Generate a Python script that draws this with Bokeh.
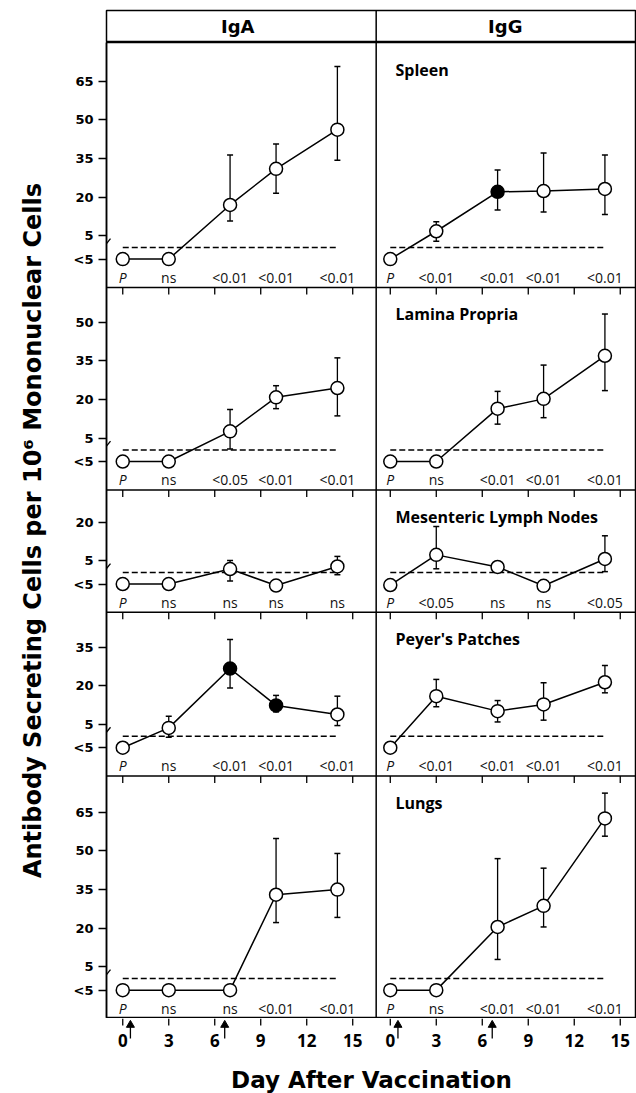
import math
from bokeh.plotting import figure
from bokeh.layouts import column
from bokeh.models import Range1d, FixedTicker, CustomJSTickFormatter, Span
from bokeh.core.properties import value
from bokeh.embed import file_html
from bokeh.resources import INLINE

NAN = float("nan")

# ---------------- data ----------------
days = [0, 3, 7, 10, 14]
BELOW = -4.0          # plotted position of the "<5" category
LOD = 0.5             # dashed detection-limit line
columns_ = ["IgA", "IgG"]
tissues = ["Spleen", "Lamina Propria", "Mesenteric Lymph Nodes", "Peyer's Patches", "Lungs"]
x_ticks = [0, 3, 6, 9, 12, 15]
x_title = "Day After Vaccination"
y_title = "Antibody Secreting Cells per 10\u2076 Mononuclear Cells"
vaccination_marks = [0.5, 6.65]

# Spleen
spleen_iga = [BELOW, BELOW, 17.0, 31.0, 46.2]
spleen_iga_lo = [NAN, NAN, 10.8, 21.5, 34.3]
spleen_iga_hi = [NAN, NAN, 36.4, 40.6, 70.7]
spleen_iga_p = ["P", "ns", "<0.01", "<0.01", "<0.01"]
spleen_iga_fill = [0, 0, 0, 0, 0]
spleen_igg = [BELOW, 6.8, 22.1, 22.4, 23.2]
spleen_igg_lo = [NAN, 2.9, 15.0, 14.3, 13.3]
spleen_igg_hi = [NAN, 10.5, 30.6, 37.1, 36.4]
spleen_igg_p = ["P", "<0.01", "<0.01", "<0.01", "<0.01"]
spleen_igg_fill = [0, 0, 1, 0, 0]
spleen_yticks = [BELOW, 5, 20, 35, 50, 65]

# Lamina propria
lp_iga = [BELOW, BELOW, 7.7, 20.9, 24.5]
lp_iga_lo = [NAN, NAN, 0.9, 16.5, 13.7]
lp_iga_hi = [NAN, NAN, 16.2, 25.4, 36.2]
lp_iga_p = ["P", "ns", "<0.05", "<0.01", "<0.01"]
lp_iga_fill = [0, 0, 0, 0, 0]
lp_igg = [BELOW, BELOW, 16.5, 20.3, 37.0]
lp_igg_lo = [NAN, NAN, 10.5, 13.0, 23.5]
lp_igg_hi = [NAN, NAN, 23.2, 33.4, 53.2]
lp_igg_p = ["P", "ns", "<0.01", "<0.01", "<0.01"]
lp_igg_fill = [0, 0, 0, 0, 0]
lp_yticks = [BELOW, 5, 20, 35, 50]

# Mesenteric lymph nodes
mln_iga = [BELOW, BELOW, 1.8, -4.6, 2.8]
mln_iga_lo = [NAN, NAN, -2.8, NAN, -0.4]
mln_iga_hi = [NAN, NAN, 5.1, NAN, 6.7]
mln_iga_p = ["P", "ns", "ns", "ns", "ns"]
mln_iga_fill = [0, 0, 0, 0, 0]
mln_igg = [-4.4, 7.3, 2.6, -4.7, 5.7]
mln_igg_lo = [NAN, 1.9, 1.5, NAN, 0.8]
mln_igg_hi = [NAN, 18.3, 3.4, NAN, 14.7]
mln_igg_p = ["P", "<0.05", "ns", "ns", "<0.05"]
mln_igg_fill = [0, 0, 0, 0, 0]
mln_yticks = [BELOW, 5, 20]

# Peyer's patches
pp_iga = [BELOW, 3.7, 26.7, 12.4, 8.9]
pp_iga_lo = [NAN, 0.1, 19.2, 9.9, 4.6]
pp_iga_hi = [NAN, 8.2, 38.0, 16.3, 16.0]
pp_iga_p = ["P", "ns", "<0.01", "<0.01", "<0.01"]
pp_iga_fill = [0, 0, 1, 1, 0]
pp_igg = [BELOW, 16.0, 10.2, 12.8, 21.4]
pp_igg_lo = [NAN, 11.9, 6.0, 6.7, 17.3]
pp_igg_hi = [NAN, 22.5, 14.3, 21.2, 27.9]
pp_igg_p = ["P", "<0.01", "<0.01", "<0.01", "<0.01"]
pp_igg_fill = [0, 0, 0, 0, 0]
pp_yticks = [BELOW, 5, 20, 35]

# Lungs
lungs_iga = [BELOW, BELOW, BELOW, 33.0, 35.0]
lungs_iga_lo = [NAN, NAN, NAN, 22.2, 24.2]
lungs_iga_hi = [NAN, NAN, NAN, 54.8, 49.0]
lungs_iga_p = ["P", "ns", "ns", "<0.01", "<0.01"]
lungs_iga_fill = [0, 0, 0, 0, 0]
lungs_igg = [BELOW, BELOW, 20.5, 28.7, 62.6]
lungs_igg_lo = [NAN, NAN, 7.9, 20.5, 55.7]
lungs_igg_hi = [NAN, NAN, 47.0, 43.3, 72.4]
lungs_igg_p = ["P", "ns", "<0.01", "<0.01", "<0.01"]
lungs_igg_fill = [0, 0, 0, 0, 0]
lungs_yticks = [BELOW, 5, 20, 35, 50, 65]

# ---------------- layout (not data) ----------------
panel_top = [80.0, 63.5, 32.5, 48.5, 79.0]   # value shown at top edge of each panel
panel_bottom = -15.0
col_off = [0.0, 17.45]                        # x offset of each column in the shared x scale
X0, X1 = -1.06, 33.51
DIVIDER = 16.53
FRAME_W, FRAME_H = 530, 976
HEADER_H = 42
STRIP_H = 23
STRIP_BOTTOM = 18
TITLE_H = 1093 - HEADER_H - FRAME_H - STRIP_H - STRIP_BOTTOM
TITLE_CENTER = 1079    # page y of the x-title centre

heights = [t - panel_bottom for t in panel_top]
base = [0.0] * 5
acc = 0.0
for i in range(4, -1, -1):
    base[i] = acc
    acc += heights[i]
Y1 = acc
UX = FRAME_W / (X1 - X0)
UY = FRAME_H / Y1

def gy(i, v):
    return base[i] + (v - panel_bottom)

def gx(c, d):
    return d + col_off[c]

panels = [
    [(spleen_iga, spleen_iga_lo, spleen_iga_hi, spleen_iga_p, spleen_iga_fill),
     (spleen_igg, spleen_igg_lo, spleen_igg_hi, spleen_igg_p, spleen_igg_fill)],
    [(lp_iga, lp_iga_lo, lp_iga_hi, lp_iga_p, lp_iga_fill),
     (lp_igg, lp_igg_lo, lp_igg_hi, lp_igg_p, lp_igg_fill)],
    [(mln_iga, mln_iga_lo, mln_iga_hi, mln_iga_p, mln_iga_fill),
     (mln_igg, mln_igg_lo, mln_igg_hi, mln_igg_p, mln_igg_fill)],
    [(pp_iga, pp_iga_lo, pp_iga_hi, pp_iga_p, pp_iga_fill),
     (pp_igg, pp_igg_lo, pp_igg_hi, pp_igg_p, pp_igg_fill)],
    [(lungs_iga, lungs_iga_lo, lungs_iga_hi, lungs_iga_p, lungs_iga_fill),
     (lungs_igg, lungs_igg_lo, lungs_igg_hi, lungs_igg_p, lungs_igg_fill)],
]
yticks = [spleen_yticks, lp_yticks, mln_yticks, pp_yticks, lungs_yticks]
xlocs = [gx(c, d) for c in range(2) for d in x_ticks]

# ---------------- main figure (all ten panels) ----------------
p = figure(width=636, height=FRAME_H, x_range=Range1d(X0, X1), y_range=Range1d(0, Y1),
           min_border_left=106, min_border_right=0, min_border_top=0, min_border_bottom=0,
           x_axis_location=None, output_backend="svg", toolbar_location=None)
p.grid.visible = False
p.outline_line_color = "black"
p.outline_line_width = 1.5
p.background_fill_color = "white"
p.border_fill_color = "white"

ylocs, ylabs = [], []
for i, tks in enumerate(yticks):
    for tk in tks:
        ylocs.append(gy(i, tk))
        ylabs.append("<5" if tk == BELOW else str(int(tk)))
p.yaxis.ticker = FixedTicker(ticks=ylocs)
p.yaxis.formatter = CustomJSTickFormatter(args=dict(locs=ylocs, labs=ylabs), code="""
let best = 0, bd = 1e9;
for (let i = 0; i < locs.length; i++) {
  const d = Math.abs(locs[i] - tick);
  if (d < bd) { bd = d; best = i; }
}
return labs[best];
""")
yax = p.yaxis[0]
yax.major_tick_out = 8
yax.major_tick_in = 0
yax.minor_tick_out = 0
yax.minor_tick_in = 0
yax.axis_line_width = 1.5
yax.major_tick_line_width = 1.3
yax.major_label_text_font = "DejaVu Sans"
yax.major_label_text_font_style = "bold"
yax.major_label_text_font_size = "13px"
yax.major_label_text_color = "black"
yax.major_label_standoff = 5
yax.axis_label = y_title
yax.axis_label_text_font = "DejaVu Sans"
yax.axis_label_text_font_style = "bold"
yax.axis_label_text_font_size = "24px"
yax.axis_label_text_color = "black"
yax.axis_label_standoff = 24

# panel separators and column divider
for i in range(4):
    p.add_layout(Span(location=base[i], dimension="width", line_color="black", line_width=1.5))
p.add_layout(Span(location=DIVIDER, dimension="height", line_color="black", line_width=1.5))

# small tick marks hanging below each separator
sx, sy0, sy1 = [], [], []
for i in range(4):
    for xl in xlocs:
        sx.append(xl)
        sy0.append(base[i])
        sy1.append(base[i] - 7 / UY)
p.segment(x0=sx, y0=sy0, x1=sx, y1=sy1, line_color="black", line_width=1.3)

# axis-break slash on the left axis of each panel
bx0, bx1, by0, by1 = [], [], [], []
for i in range(5):
    yc = gy(i, 2.0)
    bx0.append(X0 - 4 / UX); bx1.append(X0 + 4 / UX)
    by0.append(yc - 5 / UY); by1.append(yc + 5 / UY)
p.segment(x0=bx0, y0=by0, x1=bx1, y1=by1, line_color="black", line_width=1.3)

for i in range(5):
    for c in range(2):
        vals, lo, hi, plabs, fill = panels[i][c]
        xs = [gx(c, d) for d in days]
        ys = [gy(i, v) for v in vals]
        p.line([xs[0], xs[-1]], [gy(i, LOD), gy(i, LOD)], line_color="black",
               line_width=1.5, line_dash="6 3")
        p.line(xs, ys, line_color="black", line_width=1.5)
        ex = [x for x, a in zip(xs, lo) if not math.isnan(a)]
        elo = [gy(i, a) for a in lo if not math.isnan(a)]
        ehi = [gy(i, b) for b in hi if not math.isnan(b)]
        if ex:
            p.segment(x0=ex, y0=elo, x1=ex, y1=ehi, line_color="black", line_width=1.3)
            p.scatter(ex + ex, elo + ehi, marker="dash", size=6, line_color="black",
                      line_width=1.5)
        p.scatter(xs, ys, marker="circle", size=13, line_color="black", line_width=1.5,
                  fill_color=["black" if f else "white" for f in fill])
        ly = gy(i, -11)
        p.text([xs[0]], [ly], text=[plabs[0]], text_align="center", text_baseline="middle",
               text_font=value("Open Sans"), text_font_style="italic",
               text_font_size="14px", text_color="#111111")
        p.text(xs[1:], [ly] * 4, text=plabs[1:], text_align="center", text_baseline="middle",
               text_font=value("Open Sans"), text_font_size="14px", text_color="#111111")
    p.text([gx(1, 0.34)], [gy(i, panel_top[i]) - 27 / UY], text=[tissues[i]],
           text_align="left", text_baseline="middle", text_font=value("Open Sans"),
           text_font_style="bold", text_font_size="16px", text_color="black")

# ---------------- bottom strip: x ticks, vaccination arrows, tick labels ----------------
s = figure(width=636, height=STRIP_H + STRIP_BOTTOM, x_range=p.x_range,
           y_range=Range1d(-STRIP_H, 0),
           min_border_left=106, min_border_right=0, min_border_top=0,
           min_border_bottom=STRIP_BOTTOM,
           y_axis_location=None, output_backend="svg", toolbar_location=None)
s.grid.visible = False
s.outline_line_color = None
s.background_fill_color = "white"
s.border_fill_color = "white"
s.segment(x0=xlocs, y0=[0] * len(xlocs), x1=xlocs, y1=[-7] * len(xlocs),
          line_color="black", line_width=1.3)
ax_ = [gx(c, d) for c in range(2) for d in vaccination_marks]
s.segment(x0=ax_, y0=[-8] * len(ax_), x1=ax_, y1=[-20] * len(ax_),
          line_color="black", line_width=1.3)
s.scatter(ax_, [-6.5] * len(ax_), marker="triangle", size=8, fill_color="black",
          line_color="black", line_width=1)

s.xaxis.ticker = FixedTicker(ticks=xlocs)
s.xaxis.formatter = CustomJSTickFormatter(args=dict(div=DIVIDER, off=col_off[1]), code="""
const d = tick > div ? tick - off : tick;
return Math.round(d).toString();
""")
xax = s.xaxis[0]
xax.axis_line_color = None
xax.major_tick_out = 0
xax.major_tick_in = 0
xax.minor_tick_out = 0
xax.minor_tick_in = 0
xax.major_label_text_font = "Open Sans"
xax.major_label_text_font_style = "bold"
xax.major_label_text_font_size = "17px"
xax.major_label_text_color = "black"
xax.major_label_standoff = -8

# ---------------- x-axis title row ----------------
t = figure(width=636, height=TITLE_H, x_range=p.x_range, y_range=Range1d(0, TITLE_H),
           min_border_left=106, min_border_right=0, min_border_top=0, min_border_bottom=0,
           x_axis_location=None, y_axis_location=None,
           output_backend="svg", toolbar_location=None)
t.grid.visible = False
t.outline_line_color = None
t.background_fill_color = "white"
t.border_fill_color = "white"
title_top = HEADER_H + FRAME_H + STRIP_H + STRIP_BOTTOM
t.text([(X0 + X1) / 2], [TITLE_H - (TITLE_CENTER - title_top)],
       text=[x_title], text_align="center", text_baseline="middle",
       text_font=value("DejaVu Sans"), text_font_style="bold", text_font_size="23px",
       text_color="black")

# ---------------- header figure ----------------
h = figure(width=636, height=HEADER_H, x_range=p.x_range, y_range=Range1d(0, 1),
           min_border_left=106, min_border_right=0, min_border_top=10, min_border_bottom=0,
           x_axis_location=None, y_axis_location=None,
           output_backend="svg", toolbar_location=None)
h.grid.visible = False
h.outline_line_color = "black"
h.outline_line_width = 1.5
h.add_layout(Span(location=DIVIDER, dimension="height", line_color="black", line_width=1.5))
h.text([gx(0, 7.5), gx(1, 7.5)], [0.5, 0.5], text=columns_, text_align="center",
       text_baseline="middle", text_font=value("DejaVu Sans"), text_font_style="bold",
       text_font_size="18px", text_color="black")

layout = column(h, p, s, t)
open("out.html", "w").write(file_html(layout, INLINE))
